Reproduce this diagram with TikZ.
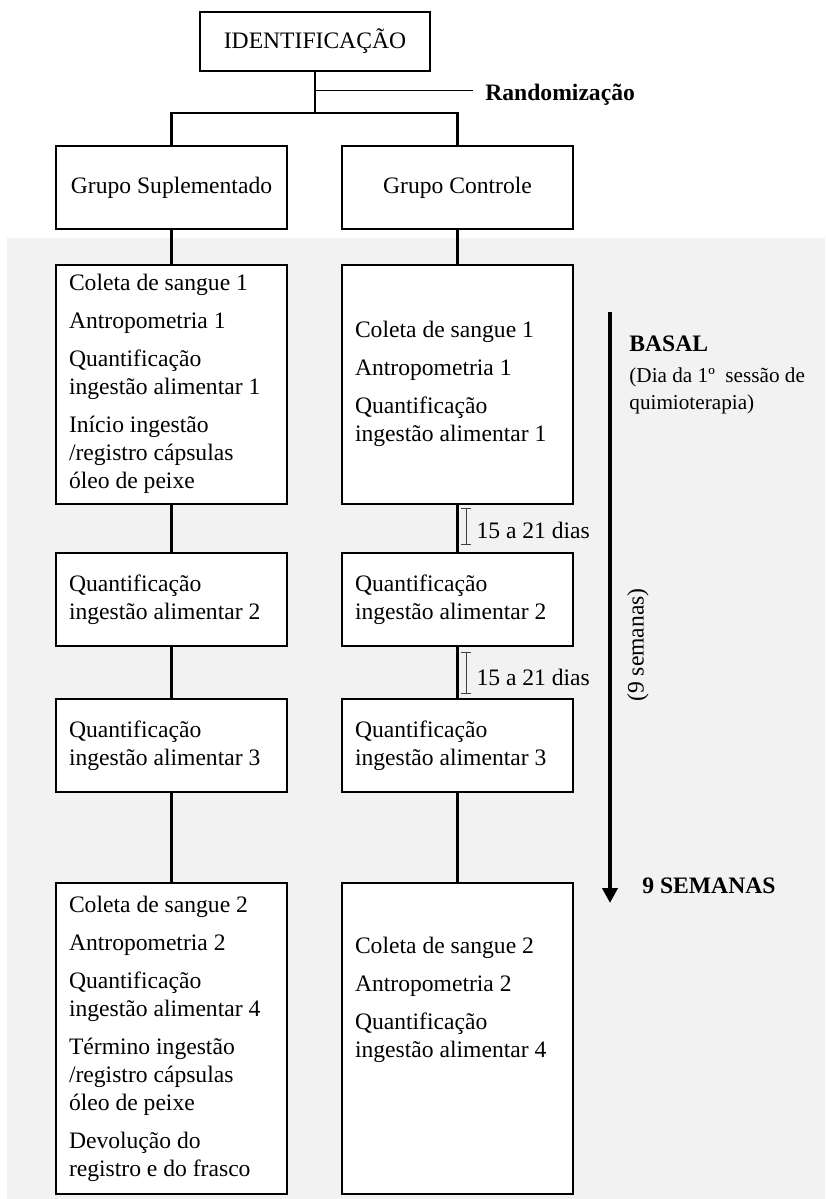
\documentclass[tikz,border=0pt]{standalone}
\usepackage{fontspec}
\setmainfont{Liberation Serif}
\usetikzlibrary{positioning,arrows.meta}
\definecolor{panelgray}{RGB}{242,242,242}
\tikzset{
  head/.style={draw, line width=1pt, fill=white, minimum width=115.5pt, minimum height=41.5pt, inner sep=0pt},
  stage/.style={draw, line width=1pt, fill=white, text width=102.5pt, inner xsep=6.5pt, inner ysep=0pt, align=flush left, minimum height=#1},
  link/.style={line width=1.2pt},
  bracket/.style={line width=0.5pt, black!75, arrows={Bar[width=5pt]-Bar[width=5pt]}},
  dias/.style={right, black, inner xsep=5pt, yshift=-2pt},
  tag/.style={inner sep=0pt, anchor=base west}
}
\begin{document}
\begin{tikzpicture}[font=\fontsize{11.8pt}{14pt}\selectfont]
\useasboundingbox (0,0) rectangle (412.5pt,-599.5pt);
% fundo cinza
\fill[panelgray] (3.5pt,-119pt) rectangle (412.5pt,-599.5pt);

\node (id) [head, minimum width=115pt, minimum height=29.5pt] at (157.5pt,-20.75pt) {IDENTIFICAÇÃO};
\node (gs) [head] at (85.75pt,-93.75pt) {Grupo Suplementado};
\node (gc) [head] at (228.75pt,-93.75pt) {Grupo Controle};

% grupo suplementado
\node (s1) [stage=119.5pt, below=16.75pt of gs] {Coleta de sangue 1\\[5pt]Antropometria 1\\[5pt]Quantificação\\ingestão alimentar 1\\[5pt]Início ingestão\\/registro cápsulas\\óleo de peixe};
\node (s2) [stage=46.5pt, below=23.75pt of s1] {Quantificação\\ingestão alimentar 2};
\node (s3) [stage=46.5pt, below=25.5pt of s2] {Quantificação\\ingestão alimentar 3};
\node (s4) [stage=155.5pt, below=44.5pt of s3] {Coleta de sangue 2\\[5pt]Antropometria 2\\[5pt]Quantificação\\ingestão alimentar 4\\[5pt]Término ingestão\\/registro cápsulas\\óleo de peixe\\[5pt]Devolução do\\registro e do frasco};

% grupo controle
\node (c1) [stage=119.5pt, below=16.75pt of gc] {Coleta de sangue 1\\[5pt]Antropometria 1\\[5pt]Quantificação\\ingestão alimentar 1};
\node (c2) [stage=46.5pt, below=23.75pt of c1] {Quantificação\\ingestão alimentar 2};
\node (c3) [stage=46.5pt, below=25.5pt of c2] {Quantificação\\ingestão alimentar 3};
\node (c4) [stage=155.5pt, text height=35pt, text depth=120.5pt, below=44.5pt of c3] {Coleta de sangue 2\\[5pt]Antropometria 2\\[5pt]Quantificação\\ingestão alimentar 4};

\coordinate (rj) at ([yshift=-9pt]id.south);
\coordinate (split) at ([yshift=-20.5pt]id.south);
\node (rnd) [tag] at (242.5pt,-50pt) {\textbf{Randomização}};

\draw[link] (id.south) -- (split);
\draw[link] (gs.north) |- (split) -| (gc.north);
\draw[line width=0.5pt, shorten >=6pt] (rj) -- (rj -| rnd.west);

\path[link] (gs) edge (s1)
            (s1) edge (s2)
            (s2) edge (s3)
            (s3) edge (s4)
            (gc) edge (c1)
            (c1) edge (c2)
            (c2) edge (c3)
            (c3) edge (c4);

% intervalos
\coordinate (d1a) at ([xshift=4.25pt,yshift=-1.75pt]c1.south);
\coordinate (d1b) at ([xshift=4.25pt,yshift=3.5pt]c2.north);
\coordinate (d2a) at ([xshift=4.25pt,yshift=-2.5pt]c2.south);
\coordinate (d2b) at ([xshift=4.25pt,yshift=2pt]c3.north);
\draw[bracket] (d1a) -- node[dias] {15 a 21 dias} (d1b);
\draw[bracket] (d2a) -- node[dias] {15 a 21 dias} (d2b);

% linha do tempo
\coordinate (t0) at (305pt,-156pt);
\coordinate (t1) at (305pt,-451.5pt);
\draw[line width=2pt, -{Triangle[width=7.5pt,length=7.5pt]}] (t0) -- (t1);
\node (basal) [anchor=north west, inner sep=0pt, align=left, font=\fontsize{10.6pt}{13.5pt}\selectfont] at (314.5pt,-167.5pt) {{\fontsize{11.8pt}{13.5pt}\selectfont\bfseries BASAL}\\[2pt](Dia da 1º \ sessão de\\quimioterapia)};
\node (nove) [rotate=90] at (319pt,-322.5pt) {(9 semanas)};
\node (fim) [tag] at (321pt,-446.5pt) {\textbf{9 SEMANAS}};
\end{tikzpicture}
\end{document}
